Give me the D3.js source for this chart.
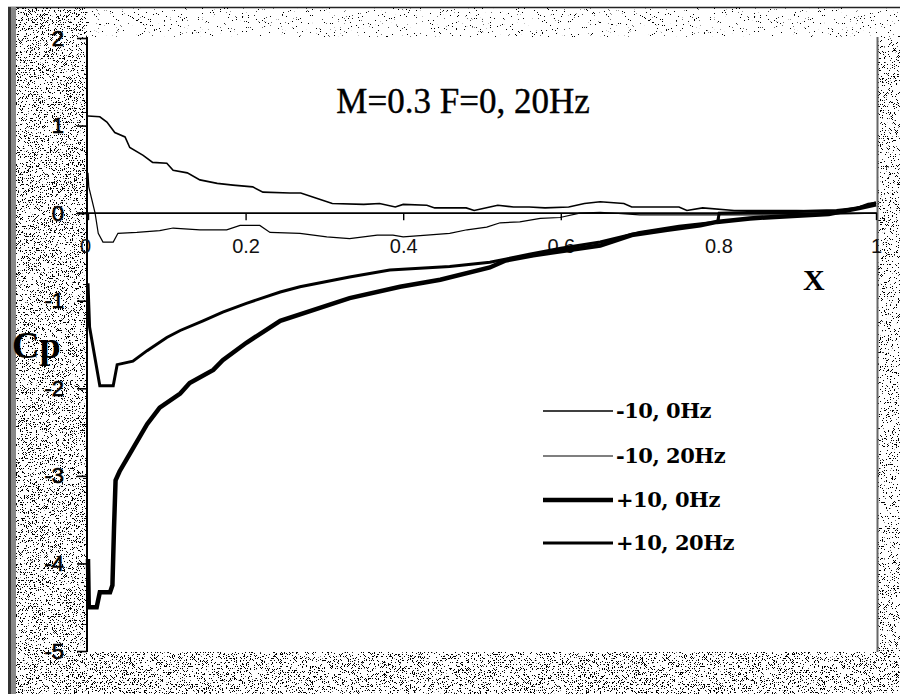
<!DOCTYPE html>
<html>
<head>
<meta charset="utf-8">
<script src="https://cdn.jsdelivr.net/npm/d3@7"></script>
<style>
  html, body { margin: 0; padding: 0; background: #ffffff; }
  svg { display: block; }
</style>
</head>
<body>
<svg id="chart" width="900" height="694"></svg>
<script>
// ---------------- data ----------------
const titleText = "M=0.3 F=0, 20Hz";
const yLabel = "Cp";
const xLabel = "X";
const xTicks = [0, 0.2, 0.4, 0.6, 0.8, 1];
const xTickLabels = ["0", "0.2", "0.4", "0.6", "0.8", "1"];
const yTicks = [2, 1, 0, -1, -2, -3, -4, -5];
const yTickLabels = ["2", "1", "0", "-1", "-2", "-3", "-4", "-5"];
const seriesNames = ["-10, 0Hz", "-10, 20Hz", "+10, 0Hz", "+10, 20Hz"];

// -10, 0Hz
const s1x = [0, 0.015, 0.024, 0.034, 0.047, 0.053, 0.07, 0.082, 0.1, 0.108, 0.126, 0.142, 0.164, 0.184, 0.209, 0.222, 0.256,
  0.27, 0.29, 0.31, 0.35, 0.37, 0.39, 0.40, 0.43, 0.44, 0.48, 0.49, 0.51, 0.52, 0.54, 0.56, 0.58, 0.61, 0.63, 0.65, 0.68, 0.69,
  0.72, 0.75, 0.76, 0.78, 0.82, 0.9, 0.96, 0.99, 1.0];
const s1y = [1.11, 1.10, 1.04, 0.92, 0.87, 0.75, 0.66, 0.58, 0.57, 0.49, 0.46, 0.38, 0.34, 0.32, 0.30, 0.24, 0.23,
  0.23, 0.17, 0.11, 0.10, 0.11, 0.07, 0.10, 0.09, 0.06, 0.06, 0.03, 0.07, 0.09, 0.07, 0.07, 0.06, 0.07, 0.11, 0.13, 0.11, 0.07,
  0.07, 0.07, 0.03, 0.06, 0.03, 0.03, 0.01, 0.11, 0.12];

// -10, 20Hz
const s2x = [0, 0.001, 0.005, 0.009, 0.013, 0.019, 0.032, 0.038, 0.062, 0.091, 0.108, 0.142, 0.176, 0.193, 0.218, 0.231, 0.269,
  0.303, 0.332, 0.367, 0.387, 0.40, 0.43, 0.459, 0.481, 0.506, 0.523, 0.548, 0.574, 0.599, 0.624, 0.65, 0.7, 0.8, 0.9, 1.0];
const s2y = [0.46, 0.30, 0.15, 0.0, -0.23, -0.33, -0.33, -0.23, -0.22, -0.20, -0.17, -0.19, -0.19, -0.14, -0.14, -0.22, -0.23,
  -0.27, -0.29, -0.25, -0.25, -0.27, -0.25, -0.23, -0.19, -0.16, -0.11, -0.10, -0.06, -0.05, 0.0, 0.01, -0.02, -0.02, -0.02, 0.0];

// +10, 0Hz
const s3x = [0, 0.001, 0.011, 0.015, 0.028, 0.031, 0.033, 0.035, 0.04, 0.053, 0.075, 0.091, 0.117, 0.129, 0.159, 0.171, 0.201,
  0.244, 0.332, 0.396, 0.447, 0.51, 0.53, 0.565, 0.65, 0.69, 0.735, 0.777, 0.798, 0.84, 0.9, 0.94, 0.98, 1.0];
const s3y = [-3.95, -4.5, -4.5, -4.33, -4.33, -4.25, -3.6, -3.05, -2.95, -2.75, -2.41, -2.22, -2.06, -1.94, -1.79, -1.68, -1.48,
  -1.23, -0.97, -0.84, -0.76, -0.62, -0.54, -0.48, -0.37, -0.25, -0.19, -0.14, -0.10, -0.06, -0.03, -0.01, 0.06, 0.10];

// +10, 20Hz
const s4x = [0, 0.002, 0.015, 0.032, 0.037, 0.057, 0.075, 0.1, 0.117, 0.146, 0.171, 0.201, 0.244, 0.269, 0.332, 0.383, 0.459,
  0.51, 0.56, 0.6, 0.65, 0.7, 0.75, 0.799, 0.801, 0.85, 0.9, 0.95, 0.98, 1.0];
const s4y = [-0.8, -1.3, -1.97, -1.97, -1.73, -1.69, -1.57, -1.42, -1.34, -1.23, -1.13, -1.03, -0.90, -0.84, -0.73, -0.65, -0.61,
  -0.56, -0.47, -0.40, -0.33, -0.22, -0.15, -0.10, 0.0, 0.01, 0.02, 0.03, 0.06, 0.12];

// ---------------- drawing ----------------
const svg = d3.select("#chart");
const W = 900, H = 694;
const plot = { left: 87, right: 877, top: 37, bottom: 652 };

const x = d3.scaleLinear().domain([0, 1]).range([88, 876]);
const y = d3.scaleLinear().domain([-5, 2]).range([651, 38]);

// stipple filters imitating the scanned, dithered gray
const defs = svg.append("defs");
function stipple(id, threshold, seed) {
  const f = defs.append("filter").attr("id", id).attr("x", 0).attr("y", 0).attr("width", "100%").attr("height", "100%")
    .attr("filterUnits", "objectBoundingBox").attr("color-interpolation-filters", "sRGB");
  f.append("feTurbulence").attr("type", "fractalNoise").attr("baseFrequency", 1.5).attr("numOctaves", 1)
    .attr("seed", seed).attr("result", "n");
  f.append("feColorMatrix").attr("type", "matrix")
    .attr("values", "0 0 0 0 0  0 0 0 0 0  0 0 0 0 0  1 0 0 0 0").attr("result", "a");
  const ct = f.append("feComponentTransfer");
  ct.append("feFuncA").attr("type", "linear").attr("slope", 40).attr("intercept", -40 * threshold);
}
stipple("stDense", 0.60, 2);
stipple("stMed", 0.64, 5);
stipple("stLight", 0.70, 9);

svg.append("rect").attr("x", 0).attr("y", 0).attr("width", W).attr("height", H).attr("fill", "#ffffff");
// left strip
svg.append("rect").attr("x", 16).attr("y", 8).attr("width", plot.left - 16).attr("height", H - 8)
  .attr("fill", "#111").attr("filter", "url(#stDense)");
// bottom strip
svg.append("rect").attr("x", plot.left).attr("y", plot.bottom).attr("width", W - plot.left).attr("height", H - plot.bottom)
  .attr("fill", "#111").attr("filter", "url(#stDense)");
// right strip
svg.append("rect").attr("x", plot.right).attr("y", plot.top).attr("width", W - plot.right).attr("height", plot.bottom - plot.top)
  .attr("fill", "#111").attr("filter", "url(#stMed)");
// top strip
svg.append("rect").attr("x", plot.left).attr("y", 8).attr("width", W - plot.left).attr("height", plot.top - 8)
  .attr("fill", "#111").attr("filter", "url(#stLight)");
// scan borders
svg.append("line").attr("x1", 8).attr("x2", W).attr("y1", 7.5).attr("y2", 7.5).attr("stroke", "#222").attr("stroke-width", 1.5);
svg.append("rect").attr("x", 8).attr("y", 7).attr("width", 3).attr("height", H - 7).attr("fill", "#333");
svg.append("rect").attr("x", 11).attr("y", 7).attr("width", 5).attr("height", H - 7).attr("fill", "#888");

// plot area
svg.append("rect").attr("x", plot.left).attr("y", plot.top).attr("width", plot.right - plot.left)
  .attr("height", plot.bottom - plot.top).attr("fill", "#ffffff");
svg.append("line").attr("x1", plot.right + 0.5).attr("x2", plot.right + 0.5).attr("y1", plot.top).attr("y2", plot.bottom)
  .attr("stroke", "#666").attr("stroke-width", 2);

// y axis
const yAxis = d3.axisLeft(y).tickValues(yTicks).tickFormat((d, i) => yTickLabels[i]).tickSize(10).tickPadding(13);
const gy = svg.append("g").attr("transform", `translate(${plot.left},0)`).call(yAxis);
gy.select(".domain").attr("d", `M0,${plot.top}V${plot.bottom}`).attr("stroke", "#000").attr("stroke-width", 2);
gy.selectAll(".tick line").attr("stroke", "#000").attr("stroke-width", 1.6);
gy.selectAll(".tick text").attr("font-family", "Liberation Sans, Arial, sans-serif").attr("font-size", 22)
  .attr("fill", "#000").attr("stroke", "#000").attr("stroke-width", 0.6);

// x axis on zero line
const xAxis = d3.axisBottom(x).tickValues(xTicks).tickFormat((d, i) => xTickLabels[i]).tickSize(7).tickPadding(19);
const gx = svg.append("g").attr("transform", `translate(0,${y(0)})`).call(xAxis);
gx.select(".domain").attr("d", `M77,0H${plot.right}`).attr("stroke", "#000").attr("stroke-width", 1.6);
gx.selectAll(".tick line").attr("stroke", "#000").attr("stroke-width", 1.4);
gx.selectAll(".tick text").attr("font-family", "Liberation Sans, Arial, sans-serif").attr("font-size", 20)
  .attr("fill", "#111").attr("dx", (d) => d === 0 ? -3 : 0);

// series
const mk = (xs, ys) => xs.map((v, i) => [v, ys[i]]);
const seriesData = [mk(s1x, s1y), mk(s2x, s2y), mk(s3x, s3y), mk(s4x, s4y)];
const widths = [1.6, 1.2, 4.5, 3.0];
const line = d3.line().x(d => x(d[0])).y(d => y(d[1]));
const gs = svg.append("g");
seriesData.forEach((data, i) => {
  gs.append("path").datum(data).attr("d", line).attr("fill", "none").attr("stroke", "#000")
    .attr("stroke-width", widths[i]).attr("stroke-linejoin", "miter");
});

// title and axis labels
svg.append("text").attr("x", 463).attr("y", 113).attr("text-anchor", "middle")
  .attr("font-family", "Liberation Serif, Times New Roman, serif").attr("font-size", 35).attr("fill", "#000")
  .attr("stroke", "#000").attr("stroke-width", 0.4).text(titleText);
svg.append("text").attr("x", 12).attr("y", 358)
  .attr("font-family", "Liberation Serif, Times New Roman, serif").attr("font-size", 38).attr("font-weight", "bold")
  .attr("fill", "#000").text(yLabel);
svg.append("text").attr("x", 803).attr("y", 290)
  .attr("font-family", "Liberation Serif, Times New Roman, serif").attr("font-size", 30).attr("font-weight", "bold")
  .attr("fill", "#000").text(xLabel);

// legend
const legY = [411, 456, 500, 543];
const lg = svg.append("g");
seriesNames.forEach((name, i) => {
  lg.append("line").attr("x1", 543).attr("x2", 613).attr("y1", legY[i]).attr("y2", legY[i])
    .attr("stroke", "#000").attr("stroke-width", widths[i]);
  lg.append("text").attr("x", 616).attr("y", legY[i] + 7)
    .attr("font-family", "DejaVu Serif, serif").attr("font-weight", "bold").attr("font-size", 21)
    .attr("letter-spacing", -0.5).attr("fill", "#000").text(name);
});
</script>
</body>
</html>
